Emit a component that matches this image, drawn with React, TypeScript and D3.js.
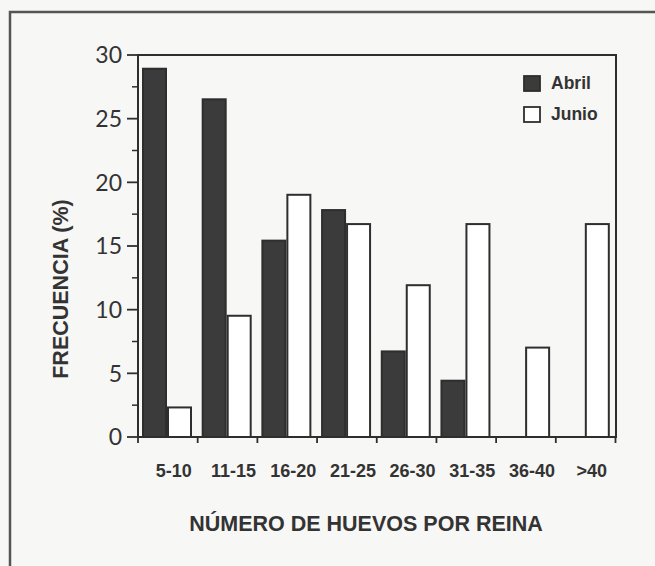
import React from "react";
import * as d3 from "d3";

const categories = ["5-10", "11-15", "16-20", "21-25", "26-30", "31-35", "36-40", ">40"];
const seriesNames = ["Abril", "Junio"];
const abril = [29, 26.6, 15.5, 17.9, 6.8, 4.5, 0, 0];
const junio = [2.4, 9.6, 19.1, 16.8, 12, 16.8, 7.1, 16.8];
const yMajorTicks = [0, 5, 10, 15, 20, 25, 30];
const yMinorTicks = [2.5, 7.5, 12.5, 17.5, 22.5, 27.5];
const xTitle = "NÚMERO DE HUEVOS POR REINA";
const yTitle = "FRECUENCIA (%)";

const W = 655;
const H = 566;
const ink = "#2e2e2e";

export default function App() {
  const left = 138;
  const right = 616;
  const top = 55;
  const bottom = 437;

  const x0 = d3.scaleBand<string>().domain(categories).range([left, right - 0.5]).padding(0);
  const x1 = d3.scaleBand<string>().domain(seriesNames).range([4, 54]).padding(0);
  const y = d3.scaleLinear().domain([0, 30]).range([bottom, top]);

  const series = [
    { name: "Abril", values: abril, fill: "#3b3b3b" },
    { name: "Junio", values: junio, fill: "#ffffff" },
  ];

  const boundaries = categories.map((c) => x0(c) as number).concat([x0.range()[1]]);

  return (
    <svg
      width={W}
      height={H}
      style={{ position: "absolute", left: 0, top: 0, background: "#f7f7f5" }}
    >
      {/* outer page frame */}
      <path d={`M10,${H} L10,12 L${W},12`} fill="none" stroke="#555" strokeWidth={2.5} />

      {/* bars */}
      {series.map((s) =>
        categories.map((c, i) => {
          const v = s.values[i];
          if (!v) return null;
          const bx = (x0(c) as number) + (x1(s.name) as number);
          const bw = x1.bandwidth();
          const yt = y(v);
          return (
            <rect
              key={s.name + c}
              x={bx + 1}
              y={yt + 1}
              width={bw - 2}
              height={bottom - yt - 1}
              fill={s.fill}
              stroke={ink}
              strokeWidth={2}
            />
          );
        })
      )}

      {/* plot frame */}
      <path
        d={`M${left},${bottom} L${left},${top} L${right},${top} L${right},${bottom} Z`}
        fill="none"
        stroke={ink}
        strokeWidth={2}
      />

      {/* y ticks */}
      {yMajorTicks.map((t) => (
        <g key={"ym" + t}>
          <line x1={left - 11} x2={left} y1={y(t)} y2={y(t)} stroke={ink} strokeWidth={1.8} />
          <text
            x={122}
            y={y(t)}
            dy="0.36em"
            textAnchor="end"
            fontFamily="Lato, 'Open Sans', sans-serif"
            fontSize={23}
            fill="#333"
          >
            {t}
          </text>
        </g>
      ))}
      {yMinorTicks.map((t) => (
        <line key={"yn" + t} x1={left - 6} x2={left} y1={y(t)} y2={y(t)} stroke={ink} strokeWidth={1.5} />
      ))}

      {/* x ticks */}
      {boundaries.map((bx, i) => (
        <line key={"xt" + i} x1={bx} x2={bx} y1={bottom} y2={bottom + 6} stroke={ink} strokeWidth={1.8} />
      ))}
      {categories.map((c) => (
        <text
          key={"xl" + c}
          x={(x0(c) as number) + x0.bandwidth() / 2 + 6}
          y={477}
          textAnchor="middle"
          fontFamily="'Liberation Sans', Arial, sans-serif"
          fontWeight="bold"
          fontSize={18}
          fill="#333"
        >
          {c}
        </text>
      ))}

      {/* axis titles */}
      <text
        x={366}
        y={531}
        textAnchor="middle"
        fontFamily="'Liberation Sans', Arial, sans-serif"
        fontWeight="bold"
        fontSize={21.5}
        fill="#333"
      >
        {xTitle}
      </text>
      <text
        transform={`translate(68,289) rotate(-90)`}
        textAnchor="middle"
        fontFamily="'Liberation Sans', Arial, sans-serif"
        fontWeight="bold"
        fontSize={21.5}
        fill="#333"
      >
        {yTitle}
      </text>

      {/* legend */}
      {series.map((s, i) => (
        <g key={"lg" + s.name} transform={`translate(524,${76 + i * 31})`}>
          <rect x={0} y={0} width={16} height={15} fill={s.fill} stroke={ink} strokeWidth={1.8} />
          <text
            x={27}
            y={13}
            fontFamily="'Liberation Sans', Arial, sans-serif"
            fontWeight="bold"
            fontSize={17.5}
            fill="#333"
          >
            {s.name}
          </text>
        </g>
      ))}
    </svg>
  );
}
